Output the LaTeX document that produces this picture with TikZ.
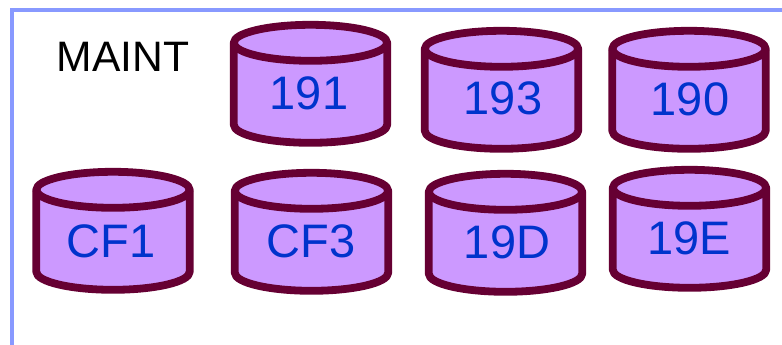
\documentclass[tikz,border=0pt]{standalone}
\usepackage{fontspec}
\setmainfont{Liberation Sans}
\definecolor{framecol}{HTML}{8899FF}
\definecolor{diskfill}{HTML}{CC99FF}
\definecolor{diskline}{HTML}{660033}
\definecolor{disktext}{HTML}{0033CC}
\tikzset{
  frameline/.style={draw=framecol,line width=3.5pt},
  diskbody/.style={draw=diskline,fill=diskfill,line width=7.8pt,line join=round},
  diskrim/.style={draw=diskline,line width=7.8pt},
  disklabel/.style={text=disktext,font=\fontsize{47}{47}\selectfont,anchor=base,inner sep=0pt},
  titlelabel/.style={text=black,font=\fontsize{42.6}{42.6}\selectfont,anchor=base west,inner sep=0pt}
}
% #1 node name, #2 left outer x, #3 top outer y, #4 label x, #5 baseline y, #6 text
\newcommand{\diskat}[6]{
  \begin{scope}[shift={(#2+3.8,#3+3.8)}]
    \path[diskbody] (0,18) .. controls (0,8.06) and (34.3,0) .. (76.7,0)
      .. controls (119.1,0) and (153.4,8.06) .. (153.4,18)
      -- (153.4,100) .. controls (153.4,109.94) and (119.1,118) .. (76.7,118)
      .. controls (34.3,118) and (0,109.94) .. (0,100) -- cycle;
    \path[diskrim] (0,18) .. controls (0,27.94) and (34.3,36) .. (76.7,36)
      .. controls (119.1,36) and (153.4,27.94) .. (153.4,18);
  \end{scope}
  \node[disklabel] (#1) at (#4,#5) {#6};
}
\begin{document}
\begin{tikzpicture}[x=1pt,y=-1pt]
  \useasboundingbox (0,0) rectangle (782,345);
  \draw[frameline] (12,345) |- (782,10);
  \node[titlelabel] (maint) at (56.5,72) {MAINT};
  \diskat{d191}{230}{21}{309}{109}{191}
  \diskat{d193}{421}{27}{503}{114}{193}
  \diskat{d190}{608.5}{27}{690}{115}{190}
  \diskat{cf1}{32.5}{168}{111}{257}{CF1}
  \diskat{cf3}{231}{169}{311}{257}{CF3}
  \diskat{d19d}{425}{170}{507}{258}{19D}
  \diskat{d19e}{609}{166}{689}{254}{19E}
\end{tikzpicture}
\end{document}
